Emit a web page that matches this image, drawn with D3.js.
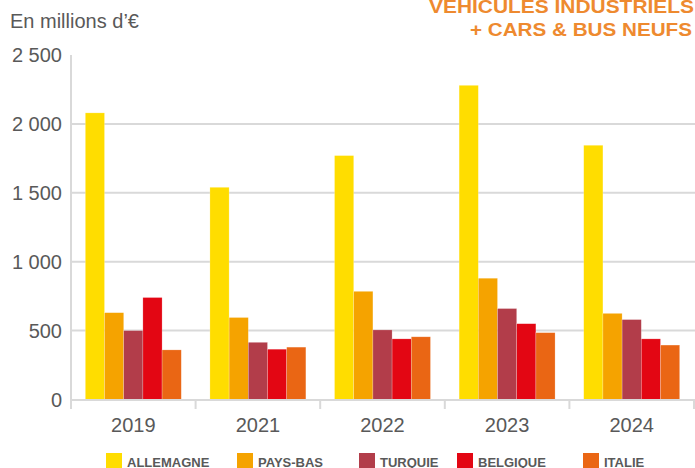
<!DOCTYPE html>
<html>
<head>
<meta charset="utf-8">
<script src="https://cdn.jsdelivr.net/npm/d3@7"></script>
<style>
  body { margin: 0; background: #fff; }
  svg { display: block; font-family: "Liberation Sans", Arial, sans-serif; }
</style>
</head>
<body>
<svg id="chart" width="695" height="468"></svg>
<script>
// data
const years = ["2019", "2021", "2022", "2023", "2024"];
const countries = ["ALLEMAGNE", "PAYS-BAS", "TURQUIE", "BELGIQUE", "ITALIE"];
const allemagne = [2080, 1540, 1770, 2280, 1845];
const paysBas = [630, 595, 785, 880, 625];
const turquie = [500, 415, 505, 660, 580];
const belgique = [740, 365, 440, 550, 440];
const italie = [360, 380, 455, 485, 395];
const yTicks = [0, 500, 1000, 1500, 2000, 2500];
const tickLabels = ["0", "500", "1 000", "1 500", "2 000", "2 500"];
const colors = ["#FFDD00", "#F5A300", "#B23D4A", "#E30613", "#EA6614"];

const series = [allemagne, paysBas, turquie, belgique, italie];

var svg = d3.select('#chart');

// plot area (note: "top" is taken by window.top)
var plotLeft = 71, plotRight = 694, plotTop = 55, plotBottom = 399.5;

var x = d3.scaleBand().domain(years).range([plotLeft, plotRight]);
var bw = x.bandwidth();
var x1 = d3.scaleBand().domain(countries).range([bw * 0.115, bw * 0.885]);
var y = d3.scaleLinear().domain([0, 2500]).range([plotBottom, plotTop]);

// gridlines
svg.append('g')
  .selectAll('line')
  .data(yTicks.filter(d => d > 0 && d < 2500))
  .enter().append('line')
  .attr('x1', plotLeft).attr('x2', 695)
  .attr('y1', d => y(d)).attr('y2', d => y(d))
  .attr('stroke', '#d9d9d9').attr('stroke-width', 2);

// y labels
svg.append('g')
  .selectAll('text')
  .data(yTicks)
  .enter().append('text')
  .attr('x', 62)
  .attr('y', d => y(d) + 7)
  .attr('text-anchor', 'end')
  .attr('font-size', 20)
  .attr('fill', '#595959')
  .text((d, i) => tickLabels[i]);

// bars
var groups = svg.append('g')
  .selectAll('g')
  .data(years)
  .enter().append('g')
  .attr('transform', d => `translate(${x(d)},0)`);

groups.selectAll('rect')
  .data((d, i) => countries.map((c, j) => ({ c: c, v: series[j][i], k: j })))
  .enter().append('rect')
  .attr('x', d => x1(d.c))
  .attr('width', x1.bandwidth())
  .attr('y', d => y(d.v))
  .attr('height', d => y(0) - y(d.v))
  .attr('fill', d => colors[d.k])
  .attr('stroke', 'rgba(255,255,255,0.35)')
  .attr('stroke-width', 0.6);

// axes
svg.append('line')
  .attr('x1', plotLeft).attr('x2', plotLeft)
  .attr('y1', plotTop).attr('y2', 409)
  .attr('stroke', '#d9d9d9').attr('stroke-width', 2);

svg.append('line')
  .attr('x1', plotLeft).attr('x2', 695)
  .attr('y1', 400).attr('y2', 400)
  .attr('stroke', '#d9d9d9').attr('stroke-width', 2);

svg.append('g')
  .selectAll('line')
  .data(years.slice(1).map(d => x(d)).concat([plotRight]))
  .enter().append('line')
  .attr('x1', d => d).attr('x2', d => d)
  .attr('y1', 400).attr('y2', 409)
  .attr('stroke', '#d9d9d9').attr('stroke-width', 2);

// x labels
svg.append('g')
  .selectAll('text')
  .data(years)
  .enter().append('text')
  .attr('x', d => x(d) + bw / 2)
  .attr('y', 432)
  .attr('text-anchor', 'middle')
  .attr('font-size', 20)
  .attr('fill', '#595959')
  .text(d => d);

// unit label
svg.append('text')
  .attr('x', 10).attr('y', 28)
  .attr('font-size', 20)
  .attr('fill', '#595959')
  .text('En millions d\u2019\u20ac');

// title
svg.append('text')
  .attr('x', 694).attr('y', 13)
  .attr('text-anchor', 'end')
  .attr('font-size', 18).attr('font-weight', 'bold')
  .attr('fill', '#EE8A2F')
  .attr('textLength', 265).attr('lengthAdjust', 'spacingAndGlyphs')
  .text('VEHICULES INDUSTRIELS');

svg.append('text')
  .attr('x', 692).attr('y', 36)
  .attr('text-anchor', 'end')
  .attr('font-size', 18).attr('font-weight', 'bold')
  .attr('fill', '#EE8A2F')
  .attr('textLength', 222).attr('lengthAdjust', 'spacingAndGlyphs')
  .text('+ CARS & BUS NEUFS');

// legend
const legendX = [106, 237, 359, 457, 583];
var legend = svg.append('g')
  .selectAll('g')
  .data(countries)
  .enter().append('g')
  .attr('transform', (d, i) => `translate(${legendX[i]},453)`);

legend.append('rect')
  .attr('width', 16).attr('height', 16)
  .attr('fill', (d, i) => colors[i]);

legend.append('text')
  .attr('x', 21).attr('y', 13.5)
  .attr('font-size', 13).attr('font-weight', 'bold')
  .attr('fill', '#595959')
  .text(d => d);
</script>
</body>
</html>
